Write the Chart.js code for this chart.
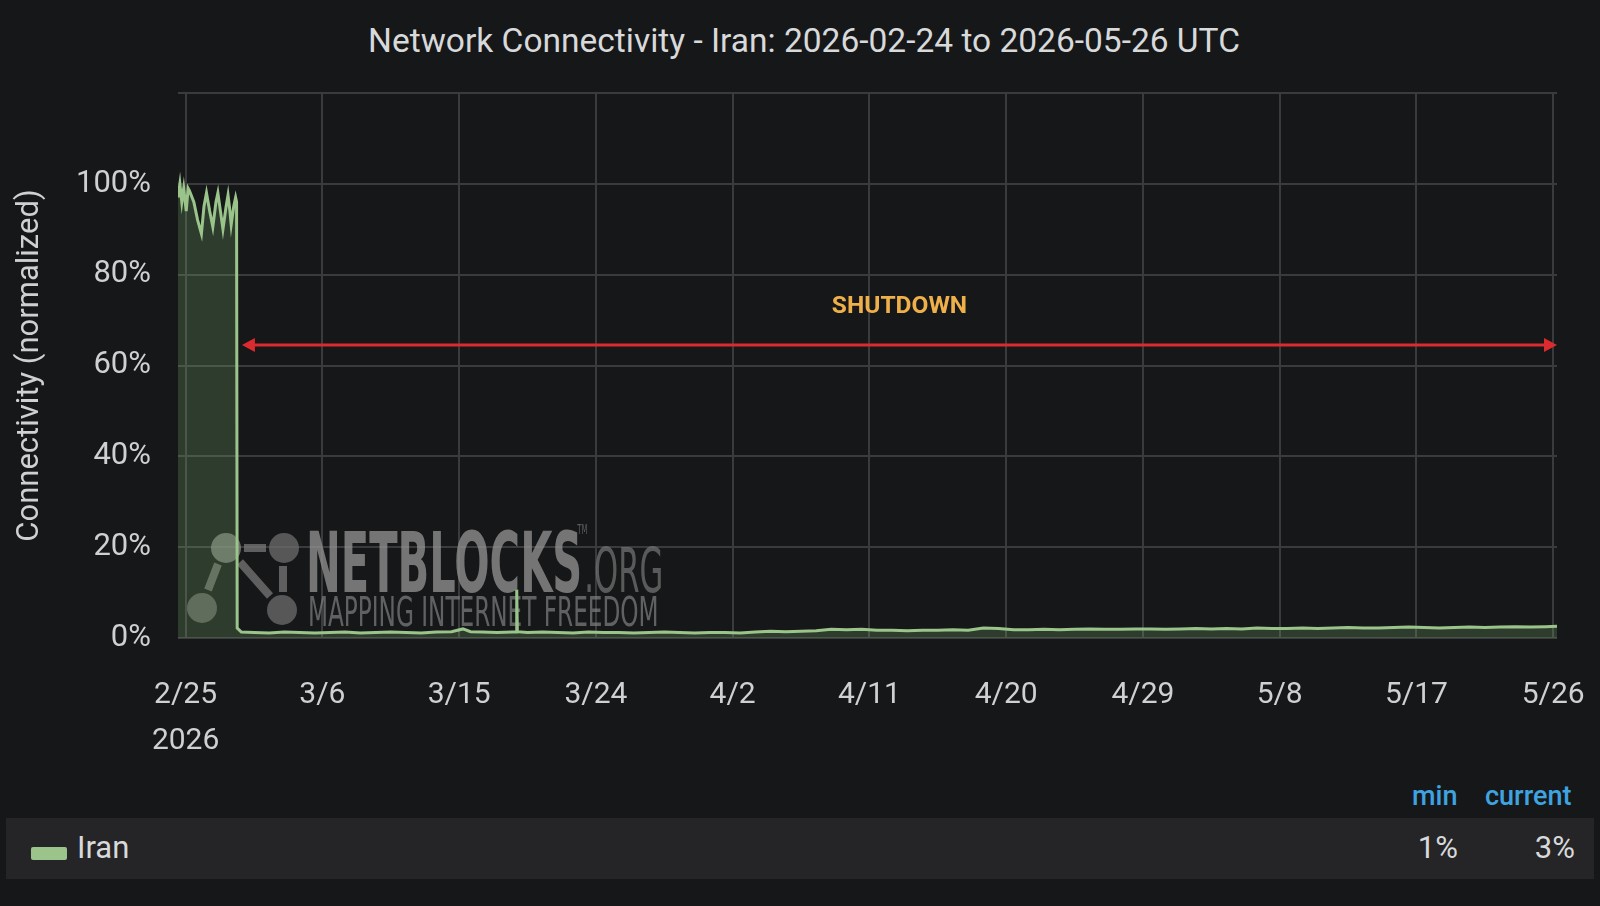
<!DOCTYPE html>
<html>
<head>
<meta charset="utf-8">
<title>Network Connectivity - Iran</title>
<script src="https://cdn.jsdelivr.net/npm/chart.js@4.4.1/dist/chart.umd.min.js"></script>
<style>
  html, body { margin: 0; padding: 0; background: #161719; width: 1600px; height: 906px; overflow: hidden; }
  body { font-family: Roboto, "Noto Sans", sans-serif; color: #d8d9da; position: relative; }
  #title { position: absolute; top: 21px; left: 0; width: 1608px; text-align: center; font-size: 33.5px; color: #d8d9da; }
  #wrap { position: absolute; left: 0; top: 0; width: 1600px; height: 760px; }
  .legend-head { position: absolute; top: 780px; font-size: 27px; font-weight: 500; color: #3fa3e0; }
  #legend-row { position: absolute; left: 6px; top: 818px; width: 1588px; height: 61px; background: #252527; }
  #legend-row .swatch { position: absolute; left: 25px; top: 29px; width: 36px; height: 13px; border-radius: 2px; background: #9ac48a; }
  #legend-row .name { position: absolute; left: 71px; top: 11px; font-size: 31px; }
  #legend-row .val { position: absolute; top: 11px; font-size: 31px; text-align: right; width: 80px; }
</style>
</head>
<body>
<div id="title">Network Connectivity - Iran: 2026-02-24 to 2026-05-26 UTC</div>
<div id="wrap"><canvas id="chart" width="1600" height="760"></canvas></div>
<div class="legend-head" style="left:1412px;">min</div>
<div class="legend-head" style="left:1485px;">current</div>
<div id="legend-row">
  <div class="swatch"></div>
  <div class="name">Iran</div>
  <div class="val" style="left:1372px;">1%</div>
  <div class="val" style="left:1489px;">3%</div>
</div>
<script>
// sample times (UTC, year 2026) and normalized connectivity in %
const sampleTimes = [
  '02-24 12:00', '02-24 15:00', '02-24 18:00', '02-24 21:00', '02-25 01:00', '02-25 04:00',
  '02-25 06:00', '02-25 13:00', '02-25 19:00', '02-26 01:00', '02-26 05:00', '02-26 09:00',
  '02-26 14:00', '02-26 19:00', '02-27 00:00', '02-27 03:00', '02-27 07:00', '02-27 11:00',
  '02-27 16:00', '02-27 19:00', '02-27 22:00', '02-28 00:00', '02-28 04:00', '02-28 07:00',
  '02-28 08:30', '02-28 09:30', '02-28 16:00',
  '03-01 12:00', '03-02 12:00', '03-03 12:00', '03-04 12:00', '03-05 12:00', '03-06 12:00',
  '03-07 12:00', '03-08 12:00', '03-09 12:00', '03-10 12:00', '03-11 12:00', '03-12 12:00',
  '03-13 12:00', '03-14 12:00', '03-15 06:00', '03-15 18:00', '03-16 12:00', '03-17 12:00',
  '03-18 12:00', '03-18 18:00', '03-18 19:00', '03-18 20:00', '03-19 12:00', '03-20 12:00',
  '03-21 12:00', '03-22 12:00', '03-23 12:00', '03-24 12:00', '03-25 12:00', '03-26 12:00',
  '03-27 12:00', '03-28 12:00', '03-29 12:00', '03-30 12:00', '03-31 12:00', '04-01 12:00',
  '04-02 12:00', '04-03 12:00', '04-04 12:00', '04-05 12:00', '04-06 12:00', '04-07 12:00',
  '04-08 12:00', '04-09 12:00', '04-10 12:00', '04-11 12:00', '04-12 12:00', '04-13 12:00',
  '04-14 12:00', '04-15 12:00', '04-16 12:00', '04-17 12:00', '04-18 12:00', '04-19 12:00',
  '04-20 12:00', '04-21 12:00', '04-22 12:00', '04-23 12:00', '04-24 12:00', '04-25 12:00',
  '04-26 12:00', '04-27 12:00', '04-28 12:00', '04-29 12:00', '04-30 12:00', '05-01 12:00',
  '05-02 12:00', '05-03 12:00', '05-04 12:00', '05-05 12:00', '05-06 12:00', '05-07 12:00',
  '05-08 12:00', '05-09 12:00', '05-10 12:00', '05-11 12:00', '05-12 12:00', '05-13 12:00',
  '05-14 12:00', '05-15 12:00', '05-16 12:00', '05-17 12:00', '05-18 12:00', '05-19 12:00',
  '05-20 12:00', '05-21 12:00', '05-22 12:00', '05-23 12:00', '05-24 12:00', '05-25 12:00',
  '05-26 06:00'
];
const connectivity = [
  97, 100, 96, 99, 94, 99,
  98.5, 96, 92, 89, 95, 98,
  94, 90.5, 96, 98, 94, 90,
  95, 97.5, 94, 91, 95, 97,
  96, 2.2, 1.3,
  1.2, 1.1, 1.3, 1.2, 1.1, 1.2,
  1.3, 1.1, 1.2, 1.3, 1.2, 1.1,
  1.3, 1.4, 2.0, 1.4, 1.3, 1.2,
  1.3, 1.3, 10.7, 1.4, 1.2, 1.3,
  1.2, 1.1, 1.3, 1.2, 1.2, 1.1,
  1.2, 1.3, 1.2, 1.1, 1.2, 1.2,
  1.1, 1.3, 1.5, 1.4, 1.5, 1.6,
  1.9, 1.8, 1.9, 1.7, 1.7, 1.6,
  1.7, 1.7, 1.8, 1.7, 2.2, 2.1,
  1.8, 1.8, 1.9, 1.8, 1.9, 2.0,
  1.9, 1.9, 2.0, 2.0, 1.9, 2.0,
  2.1, 2.0, 2.1, 2.0, 2.2, 2.1,
  2.1, 2.2, 2.1, 2.2, 2.3, 2.2,
  2.2, 2.3, 2.4, 2.3, 2.2, 2.3,
  2.4, 2.3, 2.4, 2.5, 2.4, 2.5,
  2.6
];
const xTickLabels = ['2/25', '3/6', '3/15', '3/24', '4/2', '4/11', '4/20', '4/29', '5/8', '5/17', '5/26'];
const yTickValues = [0, 20, 40, 60, 80, 100, 120];
const rangeStart = '02-24 12:00';
const rangeEnd = '05-26 06:00';

// shutdown annotation
const shutdownLabel = 'SHUTDOWN';
const shutdownStart = '02-28 17:00';
const shutdownLevel = 64.5;
const shutdownTextLevel = 72.8;

const ORIGIN = Date.UTC(2026, 1, 25);
function dayOf(s) {
  const t = Date.parse('2026-' + s.replace(' ', 'T') + ':00Z');
  return (t - ORIGIN) / 86400000;
}
function dayOfTick(lbl) {
  const [m, d] = lbl.split('/').map(Number);
  return (Date.UTC(2026, m - 1, d) - ORIGIN) / 86400000;
}

const points = sampleTimes.map((t, i) => ({ x: dayOf(t), y: connectivity[i] }));

const textColor = '#cfd0d1';
const gridColor = '#3a3b3d';

// watermark + arrow
const overlays = {
  id: 'overlays',
  beforeDatasetsDraw(chart) {
    const ctx = chart.ctx;
    const a = chart.chartArea;
    const bx = a.left, by = a.bottom;
    ctx.save();
    // logo network
    const nodes = [[48, -90], [106, -90], [24, -30], [104, -28]];
    ctx.strokeStyle = 'rgba(120,120,120,0.75)';
    ctx.lineWidth = 8;
    ctx.beginPath();
    ctx.moveTo(bx + 66, by - 90); ctx.lineTo(bx + 88, by - 90);
    ctx.moveTo(bx + 40, by - 74); ctx.lineTo(bx + 30, by - 48);
    ctx.moveTo(bx + 62, by - 76); ctx.lineTo(bx + 92, by - 42);
    ctx.moveTo(bx + 105, by - 72); ctx.lineTo(bx + 105, by - 46);
    ctx.stroke();
    nodes.forEach((n, i) => {
      ctx.fillStyle = i === 0 ? 'rgba(140,145,140,0.7)' : 'rgba(110,110,110,0.75)';
      ctx.beginPath();
      ctx.arc(bx + n[0], by + n[1], 15, 0, Math.PI * 2);
      ctx.fill();
    });
    // wordmark
    ctx.fillStyle = 'rgba(150,150,150,0.75)';
    ctx.textBaseline = 'alphabetic';
    ctx.save();
    ctx.translate(bx + 128, by - 46);
    ctx.scale(0.495, 1);
    ctx.font = 'bold 84px "DejaVu Sans"';
    ctx.fillText('NETBLOCKS', 0, 0);
    const w = ctx.measureText('NETBLOCKS').width;
    ctx.fillStyle = 'rgba(120,120,120,0.7)';
    ctx.font = '62px "DejaVu Sans"';
    ctx.fillText('.ORG', w + 4, 0);
    ctx.font = '14px "DejaVu Sans"';
    ctx.fillText('TM', w - 10, -58);
    ctx.restore();
    ctx.save();
    ctx.translate(bx + 130, by - 12);
    ctx.scale(0.565, 1);
    ctx.fillStyle = 'rgba(130,130,130,0.7)';
    ctx.font = '41px "DejaVu Sans"';
    ctx.fillText('MAPPING INTERNET FREEDOM', 0, 0);
    ctx.restore();
    ctx.restore();
  },
  afterDatasetsDraw(chart) {
    const ctx = chart.ctx;
    const xs = chart.scales.x, ys = chart.scales.y;
    const x0 = xs.getPixelForValue(dayOf(shutdownStart));
    const x1 = chart.chartArea.right;
    const y = ys.getPixelForValue(shutdownLevel);
    ctx.save();
    ctx.strokeStyle = '#dc2b2e';
    ctx.fillStyle = '#dc2b2e';
    ctx.lineWidth = 3;
    ctx.beginPath();
    ctx.moveTo(x0 + 8, y); ctx.lineTo(x1 - 8, y);
    ctx.stroke();
    ctx.beginPath();
    ctx.moveTo(x0, y); ctx.lineTo(x0 + 13, y - 7); ctx.lineTo(x0 + 13, y + 7); ctx.closePath();
    ctx.fill();
    ctx.beginPath();
    ctx.moveTo(x1, y); ctx.lineTo(x1 - 13, y - 7); ctx.lineTo(x1 - 13, y + 7); ctx.closePath();
    ctx.fill();
    ctx.font = 'bold 24.5px Roboto, "DejaVu Sans"';
    ctx.fillStyle = '#efb04a';
    ctx.textAlign = 'center';
    ctx.textBaseline = 'middle';
    ctx.fillText(shutdownLabel, (x0 + x1) / 2, ys.getPixelForValue(shutdownTextLevel));
    ctx.restore();
  }
};

new Chart(document.getElementById('chart').getContext('2d'), {
  type: 'line',
  data: {
    datasets: [{
      label: 'Iran',
      data: points,
      borderColor: '#9ac48a',
      backgroundColor: 'rgba(126,178,109,0.24)',
      borderWidth: 3,
      pointRadius: 0,
      fill: 'origin',
      tension: 0
    }]
  },
  options: {
    responsive: false,
    animation: false,
    layout: { padding: { top: 93, right: 43, left: 0, bottom: 0 } },
    plugins: { legend: { display: false }, tooltip: { enabled: false } },
    scales: {
      x: {
        type: 'linear',
        min: dayOf(rangeStart),
        max: dayOf(rangeEnd),
        afterBuildTicks: (s) => { s.ticks = xTickLabels.map(l => ({ value: dayOfTick(l) })); },
        afterFit: (s) => { s.height = 122; s.paddingLeft = 0; s.paddingRight = 0; },
        ticks: {
          autoSkip: false,
          maxRotation: 0,
          padding: 35,
          color: textColor,
          font: { family: 'Roboto', size: 30, lineHeight: 1.53 },
          callback: (v, i) => i === 0 ? [xTickLabels[i], '2026'] : xTickLabels[i]
        },
        grid: { color: gridColor, lineWidth: 2, drawTicks: false },
        border: { display: false }
      },
      y: {
        min: 0,
        max: 120,
        afterBuildTicks: (s) => { s.ticks = yTickValues.map(v => ({ value: v })); },
        afterFit: (s) => { s.width = 178; },
        ticks: {
          padding: 27,
          color: textColor,
          font: { family: 'Roboto', size: 31 },
          callback: (v) => v === 120 ? '' : v + '%'
        },
        title: {
          display: true,
          text: 'Connectivity (normalized)',
          color: textColor,
          font: { family: 'Roboto', size: 31 },
          padding: { top: 12, bottom: 0 }
        },
        grid: { color: gridColor, lineWidth: 2, drawTicks: false },
        border: { display: false }
      }
    }
  },
  plugins: [overlays]
});
</script>
</body>
</html>
